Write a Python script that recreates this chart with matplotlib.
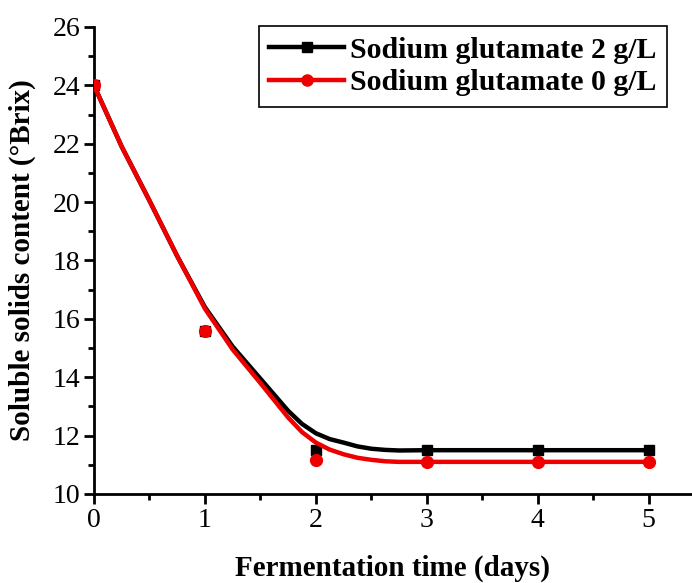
import matplotlib
matplotlib.use('Agg')
import matplotlib.pyplot as plt
from matplotlib.lines import Line2D
from matplotlib.ticker import MultipleLocator

# measured points
days = [0, 1, 2, 3, 4, 5]
brix_2 = [24.0, 15.6, 11.5, 11.5, 11.5, 11.5]
brix_0 = [24.0, 15.6, 11.15, 11.1, 11.1, 11.1]

# fitted curves
fit_days = [0, 0.25, 0.5, 0.75, 1.0, 1.25, 1.5, 1.75, 1.875, 2.0, 2.125, 2.25,
            2.375, 2.5, 2.625, 2.75, 3.0, 4.0, 5.0]
fit_2 = [24.0, 21.9, 20.05, 18.15, 16.4, 15.05, 13.95, 12.85, 12.4, 12.08, 11.88, 11.76,
         11.63, 11.55, 11.51, 11.49, 11.5, 11.5, 11.5]
fit_0 = [24.0, 21.9, 20.05, 18.15, 16.35, 14.95, 13.8, 12.62, 12.12, 11.76, 11.52, 11.36,
         11.24, 11.17, 11.12, 11.1, 11.1, 11.1, 11.1]

labels = ['Sodium glutamate 2 g/L', 'Sodium glutamate 0 g/L']
colors = ['black', '#ee0000']

plt.rcParams['font.family'] = ['Liberation Serif', 'DejaVu Serif']

fig = plt.figure(figsize=(6.92, 5.83), dpi=100)
ax = fig.add_axes([0.1358, 0.1527, 0.8642, 0.801])

ax.plot(fit_days, fit_2, color=colors[0], lw=3.2, zorder=2)
ax.plot(days, brix_2, 's', color=colors[0], ms=6.5, zorder=3)
ax.plot(fit_days, fit_0, color=colors[1], lw=3.2, zorder=4)
ax.plot(days, brix_0, 'o', color=colors[1], ms=8.5, zorder=5)

ax.set_xlim(0, 5.39)
ax.set_ylim(10, 26)
ax.xaxis.set_major_locator(MultipleLocator(1))
ax.xaxis.set_minor_locator(MultipleLocator(0.5))
ax.yaxis.set_major_locator(MultipleLocator(2))
ax.yaxis.set_minor_locator(MultipleLocator(1))

for side in ['top', 'right']:
    ax.spines[side].set_visible(False)
for side in ['left', 'bottom']:
    ax.spines[side].set_linewidth(2)

ax.tick_params(which='major', direction='out', length=7, width=2, labelsize=20, pad=3)
ax.tick_params(which='minor', direction='out', length=4, width=2)

ax.set_xlabel('Fermentation time (days)', fontsize=21, fontweight='bold', labelpad=16)
ax.set_ylabel('Soluble solids content (\u00b0Brix)', fontsize=21, fontweight='bold', labelpad=12)

handles = [
    Line2D([], [], color=colors[0], lw=3.2, marker='s', ms=6.5),
    Line2D([], [], color=colors[1], lw=3.2, marker='o', ms=8),
]
leg = ax.legend(handles, labels, loc='upper right', bbox_to_anchor=(0.958, 1.002),
                borderaxespad=0, numpoints=1, fancybox=False, framealpha=1,
                edgecolor='black', handlelength=2.5, handletextpad=0.2,
                labelspacing=0.2, borderpad=0.35,
                prop={'size': 21.5, 'weight': 'bold'})
leg.get_frame().set_linewidth(1.2)

fig.savefig('out.png', dpi=100)
plt.close(fig)
